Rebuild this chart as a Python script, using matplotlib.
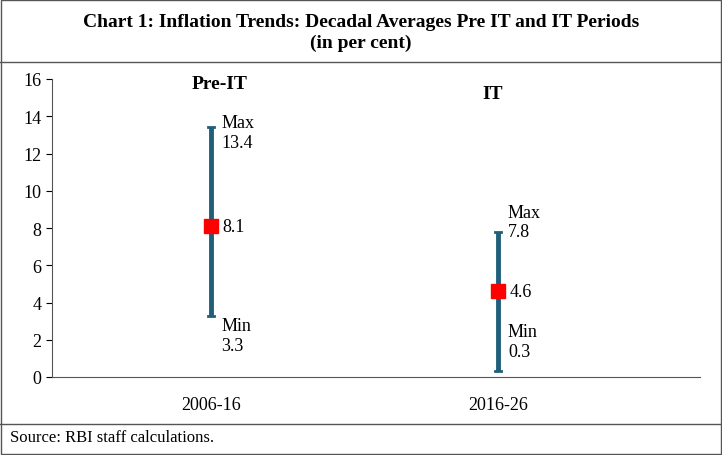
import matplotlib
matplotlib.use("Agg")
import matplotlib.pyplot as plt
from matplotlib.lines import Line2D
from matplotlib.patches import Rectangle

categories = ["2006-16", "2016-26"]
period_names = ["Pre-IT", "IT"]
max_vals = [13.4, 7.8]
min_vals = [3.3, 0.3]
avg_vals = [8.1, 4.6]
yticks = [0, 2, 4, 6, 8, 10, 12, 14, 16]

# label placement (style): top of Max label, top of Min label, y of period name
max_label_top = [14.1, 9.3]
min_label_top = [3.2, 2.9]
name_y = [15.5, 15.0]

plt.rcParams['font.family'] = ['Liberation Serif', 'DejaVu Serif']
fig = plt.figure(figsize=(7.22, 4.56), dpi=100)
ax = fig.add_axes([52/722, 78/456, 648/722, 298/456])
col = "#1f5f7a"
fs = 13
for i in range(2):
    ax.plot([i, i], [min_vals[i], max_vals[i]], color=col, lw=3.5, solid_capstyle='butt')
    ax.plot([i-0.012, i+0.012], [max_vals[i]]*2, color=col, lw=2)
    ax.plot([i-0.012, i+0.012], [min_vals[i]]*2, color=col, lw=2)
    ax.plot(i, avg_vals[i], 's', color='red', ms=10)
    ax.text(i+0.04, avg_vals[i], f"{avg_vals[i]:.1f}", va='center', ha='left', fontsize=fs)
    ax.text(i+0.035, max_label_top[i], f"Max\n{max_vals[i]:.1f}", va='top', ha='left', fontsize=fs, linespacing=1.2)
    ax.text(i+0.035, min_label_top[i], f"Min\n{min_vals[i]:.1f}", va='top', ha='left', fontsize=fs, linespacing=1.2)
    ax.text(i + (0.03 if i == 0 else -0.02), name_y[i], period_names[i], ha='center', fontsize=14, fontweight='bold')
ax.set_xlim(-0.554, 1.704)
ax.set_ylim(0, 16)
ax.set_yticks(yticks)
ax.set_xticks([0, 1])
ax.set_xticklabels(categories, fontsize=fs)
ax.tick_params(axis='y', labelsize=fs, length=4, direction='out')
ax.tick_params(axis='x', length=0, pad=14)
for s in ['top', 'right']:
    ax.spines[s].set_visible(False)
ax.spines['left'].set_color('#555555')
ax.spines['bottom'].set_color('#555555')

fig.add_artist(Rectangle((1/722, 1/456), 720/722, 454/456, transform=fig.transFigure, fill=False, ec='#555555', lw=1))
fig.add_artist(Line2D([0, 1], [1-63/456]*2, transform=fig.transFigure, color='#555555', lw=1))
fig.add_artist(Line2D([0, 1], [1-425/456]*2, transform=fig.transFigure, color='#555555', lw=1))
fig.text(0.5, 1-33/456, "Chart 1: Inflation Trends: Decadal Averages Pre IT and IT Periods\n(in per cent)",
         ha='center', va='center', fontsize=14, fontweight='bold', linespacing=1.3)
fig.text(10/722, 1-438/456, "Source: RBI staff calculations.", ha='left', va='center', fontsize=12)
fig.savefig("out.png", dpi=100)
